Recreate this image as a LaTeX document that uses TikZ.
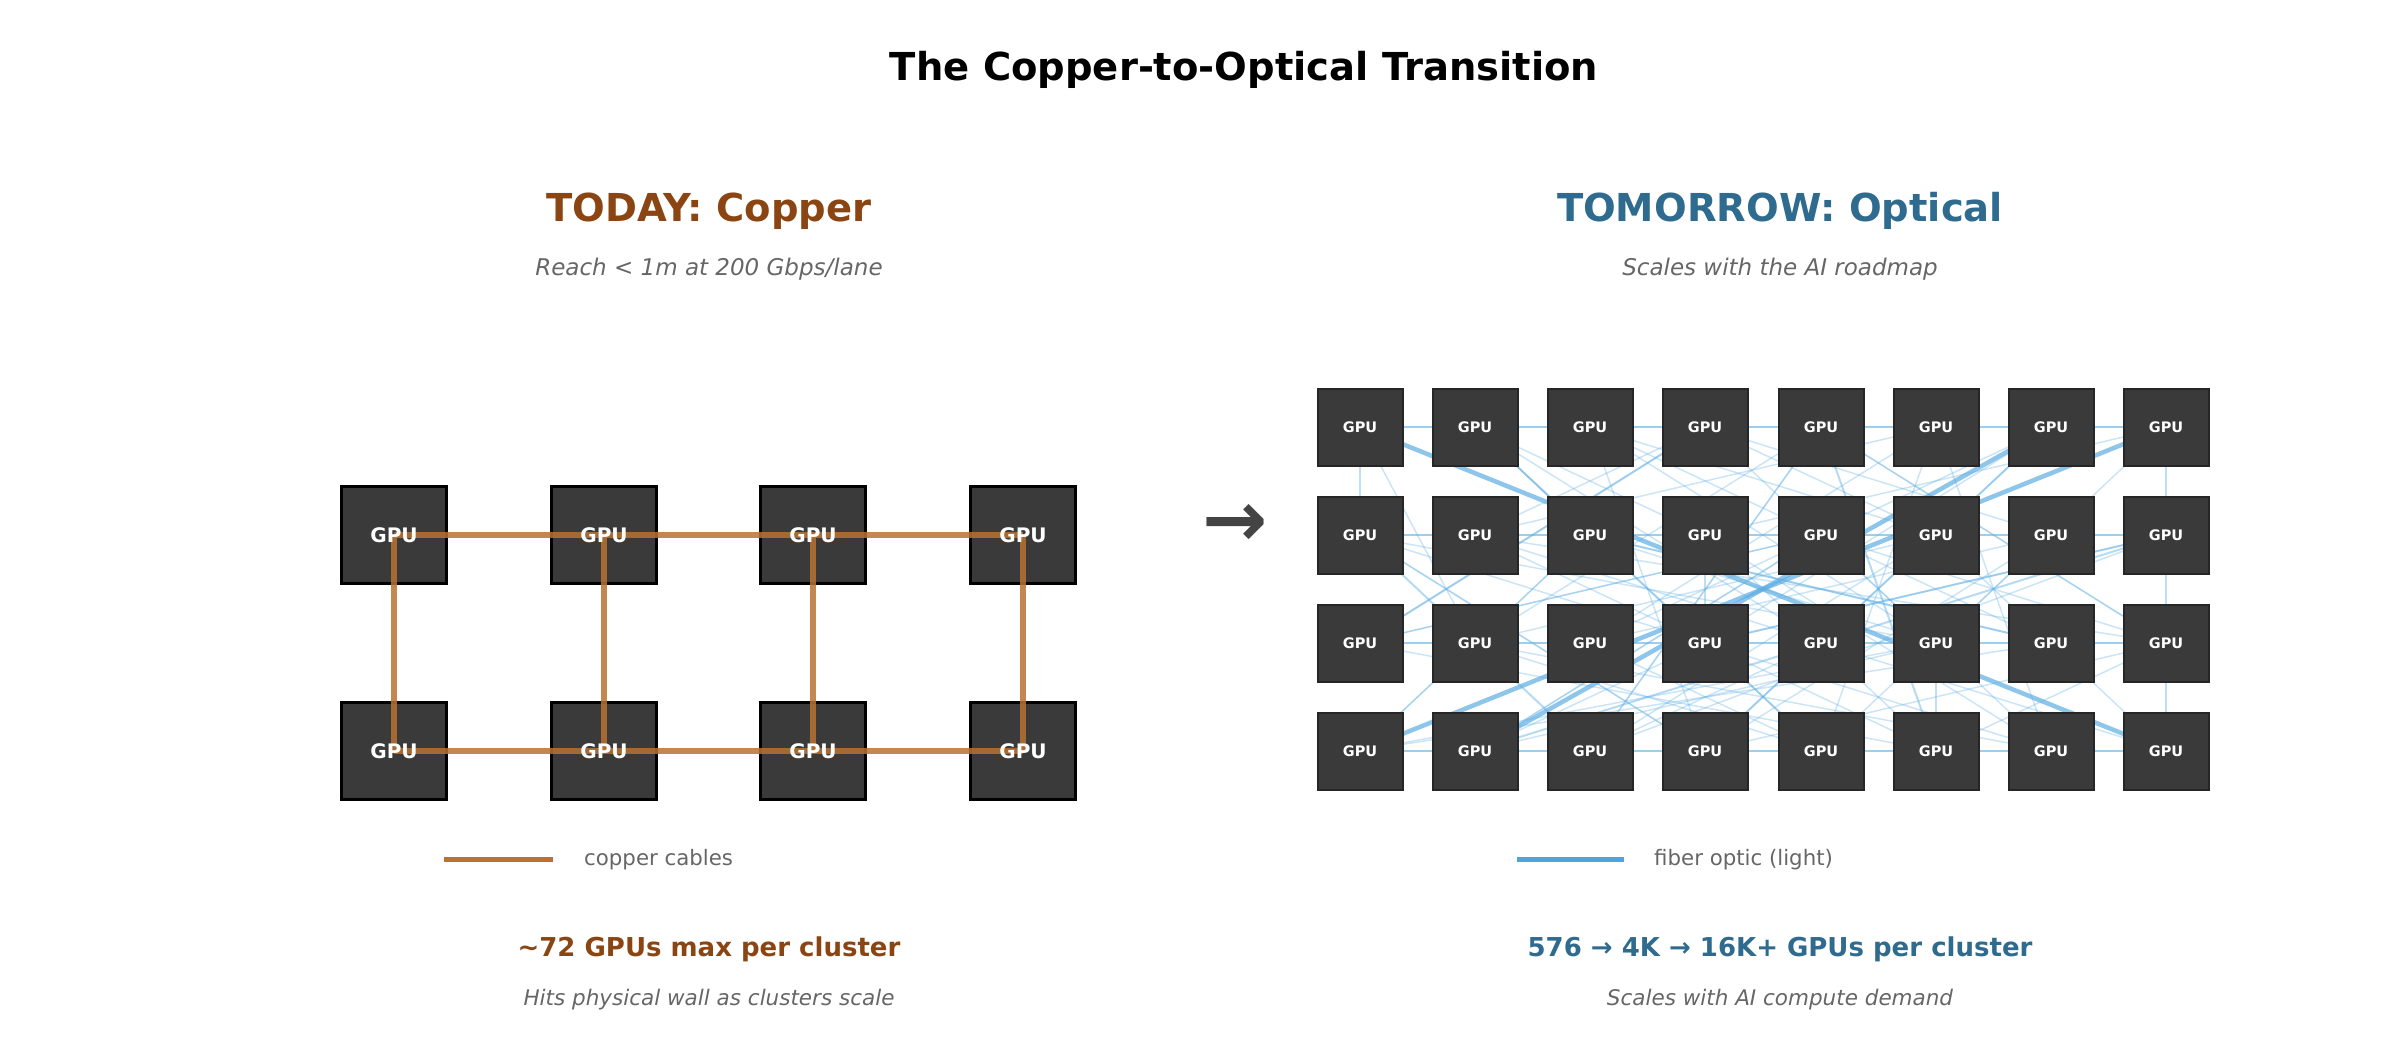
\documentclass[tikz,border=0pt]{standalone}
\usepackage{fontspec}
\setmainfont{DejaVu Sans}
\pgfdeclarelayer{bg}
\pgfsetlayers{bg,main}
\definecolor{copperc}{HTML}{B87333}
\definecolor{fiberc}{HTML}{4EA5D9}
\definecolor{fiberl}{HTML}{5DADE2}
\definecolor{todayc}{HTML}{8B4513}
\definecolor{tomc}{HTML}{2E6B8E}
\definecolor{subgray}{HTML}{666666}
\definecolor{boxfill}{HTML}{3A3A3A}
\definecolor{arrowc}{HTML}{444444}
\newcommand\myfs[1]{\fontsize{#1}{#1}\selectfont}
\tikzset{
  lbox/.style={draw=black, line width=3pt, fill=boxfill, minimum width=105pt, minimum height=97pt, inner sep=0pt},
  lgpu/.style={text=white, font=\myfs{20}\bfseries, inner sep=0pt},
  rbox/.style={draw=black!85, line width=2pt, fill=boxfill, minimum width=85pt, minimum height=77pt, inner sep=0pt, text=white, font=\myfs{14.5}\bfseries},
  copperline/.style={draw=copperc, line width=6pt, opacity=0.85},
  fibhor/.style={draw=fiberl, line width=2.5pt, opacity=0.6},
  fibver/.style={draw=fiberl, line width=1.8pt, opacity=0.4},
  fibthin/.style={draw=fiberl, line width=1.5pt, opacity=0.32},
  fibmed/.style={draw=fiberl, line width=2pt, opacity=0.45},
  fibthick/.style={draw=fiberl, line width=4.5pt, opacity=0.7},
  ptitle/.style={font=\myfs{38.5}\bfseries},
  psub/.style={font=\myfs{23}\itshape, text=subgray},
  legtext/.style={font=\myfs{21.3}, text=subgray, anchor=west, inner sep=0pt},
  botbold/.style={font=\myfs{26}\bfseries},
  botit/.style={font=\myfs{21.5}\itshape, text=subgray},
}
\begin{document}
\begin{tikzpicture}[x=1pt,y=-1pt]
\useasboundingbox (0,0) rectangle (2402,1054);

% main title
\node[ptitle] (title) at (1244,70) {The Copper-to-Optical Transition};

% panel titles
\node[ptitle, text=todayc] (ltitle) at (709,211) {TODAY: Copper};
\node[psub] (lsub) at (709,269) {Reach < 1m at 200 Gbps/lane};
\node[ptitle, text=tomc] (rtitle) at (1780,211) {TOMORROW: Optical};
\node[psub] (rsub) at (1780,269) {Scales with the AI roadmap};

% ---------- left: copper ----------
\foreach \c/\x in {1/394,2/604,3/813,4/1023}{
  \foreach \r/\y in {1/535,2/751}{
    \node[lbox] (L\r\c) at (\x,\y) {};
  }
}
\foreach \c in {1,2,3,4}{
  \draw[copperline] (L1\c.center) -- (L2\c.center);
}
\foreach \c/\d in {1/2,2/3,3/4}{
  \draw[copperline] (L1\c.center) -- (L1\d.center);
  \draw[copperline] (L2\c.center) -- (L2\d.center);
}
\foreach \c in {1,2,3,4}{
  \foreach \r in {1,2}{
    \node[lgpu] (Lt\r\c) at (L\r\c) {GPU};
  }
}

% arrow
\node[font=\myfs{78}\bfseries, text=arrowc, inner sep=0pt] (arr) at (1235,525) {→};

% ---------- right: optical ----------
\foreach \c/\x in {1/1360,2/1475,3/1590,4/1705,5/1821,6/1936,7/2051,8/2166}{
  \foreach \r/\y in {1/427,2/535,3/643,4/751}{
    \node[rbox] (R\r\c) at (\x,\y) {GPU};
  }
}
\begin{pgfonlayer}{bg}
  \foreach \r in {1,2,3,4}{
    \foreach \c/\d in {1/2,2/3,3/4,4/5,5/6,6/7,7/8}{
      \draw[fibhor] (R\r\c.center) -- (R\r\d.center);
    }
  }
  \foreach \r/\s in {1/2,2/3,3/4}{
    \draw[fibver] (R\r8.center) -- (R\s8.center);
  }
  \draw[fibver] (R11.center) -- (R21.center);
  \draw[fibver] (R24.center) -- (R34.center);
  \draw[fibver] (R36.center) -- (R46.center);
  \foreach \a/\b/\e/\f in {1/2/3/5, 1/3/2/6, 1/3/4/4, 1/4/3/1, 1/4/2/7, 1/5/4/3,
      1/5/3/8, 1/6/2/2, 1/6/4/5, 1/7/3/3, 1/2/2/4, 1/3/3/7, 2/1/3/6, 2/1/4/4,
      2/2/4/6, 2/2/3/8, 2/3/4/1, 2/3/3/6, 2/4/4/7, 2/4/1/8, 2/5/4/2, 2/5/3/1,
      2/6/4/3, 2/7/4/5, 2/8/3/4, 2/6/1/4, 3/1/2/5, 3/1/4/6, 3/2/1/5, 3/2/4/7,
      3/3/1/6, 3/4/4/2, 3/4/1/7, 3/5/4/8, 3/5/2/2, 3/6/4/1, 3/6/1/3, 3/7/2/3,
      3/8/4/6, 3/8/2/5, 4/1/2/3, 4/2/3/6, 4/3/2/8, 4/3/1/5, 4/4/2/1, 4/4/3/8,
      4/5/1/2, 4/5/3/2, 4/6/2/4, 4/7/3/4, 4/7/1/6, 4/8/2/6, 4/1/3/7, 4/3/3/5,
      1/8/3/6, 1/7/4/4, 2/2/1/4, 2/3/1/2, 3/3/4/5, 1/1/3/2, 4/2/2/5, 3/8/1/5,
      2/1/3/4, 3/2/2/6, 4/4/2/7, 1/4/3/6, 2/5/4/7, 3/3/2/7}{
    \draw[fibthin] (R\a\b.center) -- (R\e\f.center);
  }
  \foreach \a/\b/\e/\f in {2/3/3/7, 4/2/2/8, 1/2/4/5, 3/1/1/4, 4/6/1/5, 2/1/4/3,
      3/4/2/8, 4/4/1/7}{
    \draw[fibmed] (R\a\b.center) -- (R\e\f.center);
  }
  \draw[fibthick] (R11.center) -- (R48.center);
  \draw[fibthick] (R41.center) -- (R18.center);
  \draw[fibthick] (R42.center) -- (R17.center);
\end{pgfonlayer}

% ---------- legends ----------
\coordinate (cl1) at (444,859);
\coordinate (cl2) at (553,859);
\draw[draw=copperc, line width=5pt] (cl1) -- (cl2);
\node[legtext] (cltext) at (584,860) {copper cables};
\coordinate (fl1) at (1517,859);
\coordinate (fl2) at (1624,859);
\draw[draw=fiberc, line width=5pt] (fl1) -- (fl2);
\node[legtext] (fltext) at (1654,860) {fiber optic (light)};

% ---------- bottom texts ----------
\node[botbold, text=todayc] (lbot) at (709,949) {\textasciitilde 72 GPUs max per cluster};
\node[botit] (lbot2) at (709,1000) {Hits physical wall as clusters scale};
\node[botbold, text=tomc] (rbot) at (1780,949) {576 → 4K → 16K+ GPUs per cluster};
\node[botit] (rbot2) at (1780,1000) {Scales with AI compute demand};
\end{tikzpicture}
\end{document}
